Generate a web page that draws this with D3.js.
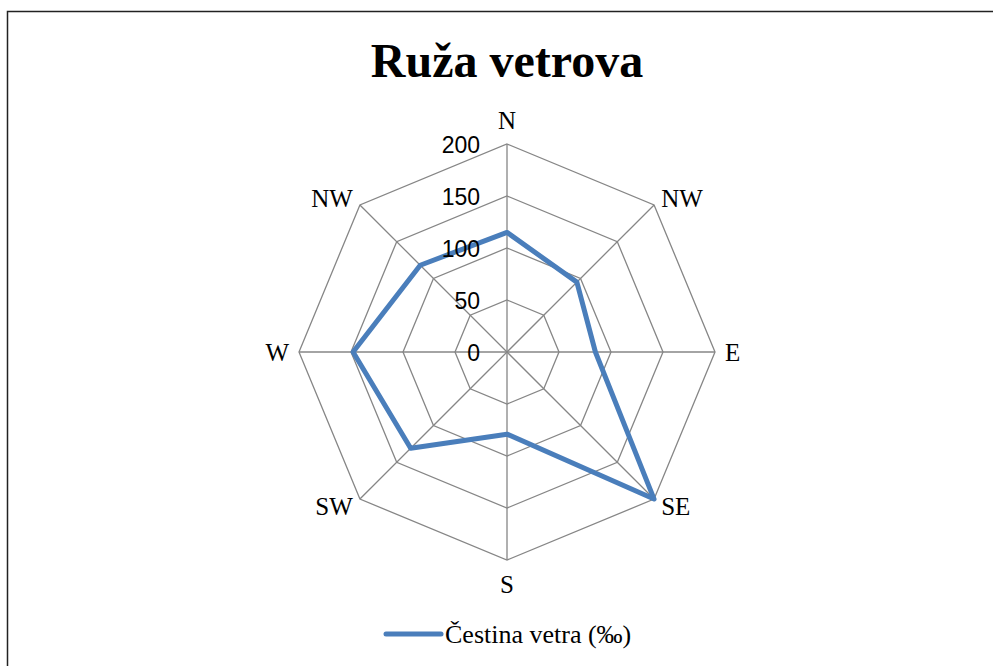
<!DOCTYPE html>
<html lang="en">
<head>
<meta charset="utf-8">
<title>Ruža vetrova</title>
<script src="https://cdn.jsdelivr.net/npm/d3@7/dist/d3.min.js"></script>
<style>
body{margin:0;background:#fff;}
svg{display:block;}
</style>
</head>
<body>
<div id="chart"></div>
<script>
// wind directions (labels as they appear on the original) and frequencies
var directions = ["N", "NW", "E", "SE", "S", "SW", "W", "NW"];
var frequency = [115, 95, 85, 200, 79, 131, 148, 118];
var ticks = [0, 50, 100, 150, 200];
var seriesName = "Čestina vetra (‰)";

var width = 993, height = 666;
var cx = 507, cy = 352, R = 208;

var svg = d3.select("#chart").append("svg")
    .attr("width", width)
    .attr("height", height);

// chart frame
svg.append("rect")
    .attr("x", 7.5).attr("y", 11.5)
    .attr("width", width + 20).attr("height", height + 20)
    .attr("fill", "#fff")
    .attr("stroke", "#222")
    .attr("stroke-width", 1.5);

svg.append("text")
    .attr("x", cx).attr("y", 77)
    .attr("text-anchor", "middle")
    .attr("font-family", "'Liberation Serif', 'Times New Roman', serif")
    .attr("font-weight", "bold")
    .attr("font-size", 48)
    .text("Ruža vetrova");

var r = d3.scaleLinear().domain([0, 200]).range([0, R]);
var angle = d3.scalePoint().domain(d3.range(directions.length))
    .range([0, 2 * Math.PI * (directions.length - 1) / directions.length]);

function pt(i, rad) {
  var a = angle(i);
  return [cx + rad * Math.sin(a), cy - rad * Math.cos(a)];
}

var g = svg.append("g");

// rings
ticks.forEach(function(t) {
  if (t === 0) return;
  g.append("polygon")
    .attr("points", directions.map(function(d, i) { return pt(i, r(t)).join(","); }).join(" "))
    .attr("fill", "none")
    .attr("stroke", "#868686")
    .attr("stroke-width", 1.3);
});

// spokes
g.selectAll("line.spoke").data(directions).enter()
  .append("line")
    .attr("class", "spoke")
    .attr("x1", cx).attr("y1", cy)
    .attr("x2", function(d, i) { return pt(i, R)[0]; })
    .attr("y2", function(d, i) { return pt(i, R)[1]; })
    .attr("stroke", "#868686")
    .attr("stroke-width", 1.3);

// series
var line = d3.lineRadial()
    .angle(function(d, i) { return angle(i); })
    .radius(function(d) { return r(d); })
    .curve(d3.curveLinearClosed);

g.append("path")
    .attr("transform", "translate(" + cx + "," + cy + ")")
    .attr("d", line(frequency))
    .attr("fill", "none")
    .attr("stroke", "#4a7ebb")
    .attr("stroke-width", 5)
    .attr("stroke-linejoin", "round");

// tick labels along the north axis (on top of the series, like the original)
g.selectAll("text.tick").data(ticks).enter()
  .append("text")
    .attr("class", "tick")
    .attr("x", cx - 27)
    .attr("y", function(d) { return cy - r(d) + 1; })
    .attr("dy", "0.35em")
    .attr("text-anchor", "end")
    .attr("font-family", "'Liberation Sans', Arial, sans-serif")
    .attr("font-size", 23)
    .text(function(d) { return d; });

// direction labels
g.selectAll("text.dir").data(directions).enter()
  .append("text")
    .attr("class", "dir")
    .attr("x", function(d, i) { return pt(i, R + 10)[0]; })
    .attr("y", function(d, i) {
      var c = Math.cos(angle(i));
      var extra = Math.abs(c) > 0.9 ? -14 * Math.sign(c) : 0;
      return pt(i, R + 10)[1] + extra;
    })
    .attr("dy", "0.35em")
    .attr("text-anchor", function(d, i) {
      var s = Math.sin(angle(i));
      return s > 0.1 ? "start" : (s < -0.1 ? "end" : "middle");
    })
    .attr("font-family", "'Liberation Serif', 'Times New Roman', serif")
    .attr("font-size", 25)
    .text(function(d) { return d; });

// legend
var lg = svg.append("g").attr("transform", "translate(386,634)");
lg.append("line")
    .attr("x1", 0).attr("x2", 55).attr("y1", 0).attr("y2", 0)
    .attr("stroke", "#4a7ebb")
    .attr("stroke-width", 5)
    .attr("stroke-linecap", "round");
lg.append("text")
    .attr("x", 59).attr("y", 0)
    .attr("dy", "0.35em")
    .attr("font-family", "'Liberation Serif', 'Times New Roman', serif")
    .attr("font-size", 26)
    .text(seriesName);
</script>
</body>
</html>
